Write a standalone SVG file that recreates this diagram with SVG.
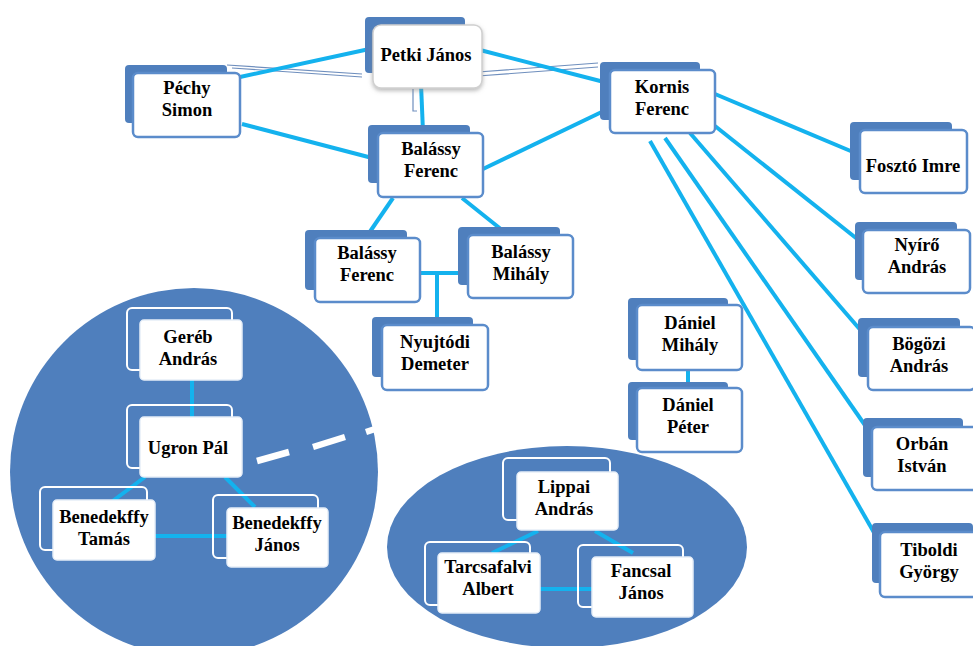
<svg xmlns="http://www.w3.org/2000/svg" width="973" height="646" viewBox="0 0 973 646">
<defs>
<style>
.back{fill:#4F7FBD;}
.front{fill:#FFFFFF;stroke:#5B8CCB;stroke-width:2.5;}
.cback{fill:none;stroke:#FFFFFF;stroke-width:2;}
.cfront{fill:#FFFFFF;stroke:#E6EEF8;stroke-width:1.5;}
.t{font-weight:bold;font-size:18.5px;fill:#000;text-anchor:middle;}
.c{stroke:#14B2EE;stroke-width:4;fill:none;}
.dk{stroke:#4A72AD;stroke-width:1.2;fill:none;opacity:0.8;}
.dash{stroke:#FFFFFF;stroke-width:6.5;fill:none;}
</style>
<filter id="sh" x="-20%" y="-20%" width="140%" height="150%">
<feDropShadow dx="0" dy="2" stdDeviation="2" flood-color="#888" flood-opacity="0.6"/>
</filter>
</defs>
<rect x="0" y="0" width="973" height="646" fill="#FFFFFF"/>

<g id="groups">
<circle cx="194" cy="472" r="184" fill="#4F7FBD"/>
<ellipse cx="567" cy="547" rx="180" ry="101" fill="#4F7FBD"/>
</g>

<g id="connectors">
<path class="dk" d="M227,65 L362,74 M232,68 L362,77"/>
<path class="dk" d="M478,72 L598,63 M478,76 L598,67"/>
<path class="dk" d="M413,89 L413,111 L417,111"/>
<line class="c" x1="240" y1="77" x2="374" y2="48"/>
<line class="c" x1="242" y1="124" x2="376" y2="159"/>
<line class="c" x1="421" y1="84" x2="423" y2="132"/>
<line class="c" x1="480" y1="50" x2="608" y2="83"/>
<line class="c" x1="483" y1="169" x2="610" y2="108"/>
<line class="c" x1="393" y1="198" x2="367" y2="236"/>
<line class="c" x1="462" y1="198" x2="507" y2="234"/>
<line class="c" x1="420" y1="273" x2="470" y2="273"/>
<line class="c" x1="437" y1="273" x2="437" y2="320"/>
<line class="c" x1="715" y1="94" x2="853" y2="152"/>
<line class="c" x1="715" y1="126" x2="861" y2="242"/>
<line class="c" x1="690" y1="133" x2="863" y2="333"/>
<line class="c" x1="665" y1="138" x2="869" y2="431"/>
<line class="c" x1="650" y1="141" x2="876" y2="536"/>
<line class="c" x1="688" y1="367" x2="688" y2="392"/>
<line class="c" x1="192" y1="380" x2="192" y2="418"/>
<line class="c" x1="145" y1="477" x2="110" y2="503"/>
<line class="c" x1="225" y1="477" x2="255" y2="507"/>
<line class="c" x1="155" y1="536" x2="228" y2="536"/>
<line class="c" x1="538" y1="531" x2="492" y2="553"/>
<line class="c" x1="595" y1="531" x2="633" y2="553"/>
<line class="c" x1="540" y1="589" x2="593" y2="589"/>
<line class="dash" x1="257" y1="461" x2="289" y2="452"/>
<line class="dash" x1="313" y1="447" x2="345" y2="437"/>
<line class="dash" x1="366" y1="432" x2="378" y2="428"/>
</g>

<g id="nodes" font-family="'Liberation Serif', 'DejaVu Serif', 'Times New Roman', serif">
<g id="n-petki">
<rect class="back" x="365" y="17" width="100" height="56" rx="4"/>
<rect x="373" y="25" width="109" height="63" rx="8" fill="#FFFFFF" stroke="#D0D0D0" stroke-width="1.5" filter="url(#sh)"/>
<text class="t" x="426" y="61">Petki János</text>
</g>

<g id="n-pechy">
<rect class="back" x="125" y="65" width="102" height="58" rx="4"/>
<rect class="front" x="133" y="73" width="107" height="64" rx="5"/>
<text class="t" x="187" y="94">Péchy<tspan x="187" dy="22">Simon</tspan></text>
</g>

<g id="n-balassy-ferenc-1">
<rect class="back" x="368" y="125" width="102" height="58" rx="4"/>
<rect class="front" x="378" y="133" width="105" height="64" rx="5"/>
<text class="t" x="431" y="155">Balássy<tspan x="431" dy="22">Ferenc</tspan></text>
</g>

<g id="n-kornis">
<rect class="back" x="600" y="62" width="100" height="58" rx="4"/>
<rect class="front" x="610" y="70" width="105" height="63" rx="5"/>
<text class="t" x="662" y="93">Kornis<tspan x="662" dy="22">Ferenc</tspan></text>
</g>

<g id="n-foszto">
<rect class="back" x="850" y="122" width="102" height="58" rx="4"/>
<rect class="front" x="860" y="130" width="107" height="63" rx="5"/>
<text class="t" x="913" y="172">Fosztó Imre</text>
</g>

<g id="n-nyiro">
<rect class="back" x="855" y="222" width="102" height="58" rx="4"/>
<rect class="front" x="863" y="230" width="107" height="63" rx="5"/>
<text class="t" x="917" y="251">Nyírő<tspan x="917" dy="22">András</tspan></text>
</g>

<g id="n-bogozi">
<rect class="back" x="858" y="318" width="102" height="59" rx="4"/>
<rect class="front" x="868" y="327" width="107" height="63" rx="5"/>
<text class="t" x="919" y="350">Bögözi<tspan x="919" dy="22">András</tspan></text>
</g>

<g id="n-orban">
<rect class="back" x="863" y="418" width="100" height="59" rx="4"/>
<rect class="front" x="872" y="427" width="107" height="63" rx="5"/>
<text class="t" x="922" y="450">Orbán<tspan x="922" dy="22">István</tspan></text>
</g>

<g id="n-tiboldi">
<rect class="back" x="872" y="523" width="101" height="60" rx="4"/>
<rect class="front" x="880" y="532" width="107" height="65" rx="5"/>
<text class="t" x="929" y="556">Tiboldi<tspan x="929" dy="22">György</tspan></text>
</g>

<g id="n-balassy-ferenc-2">
<rect class="back" x="305" y="230" width="102" height="60" rx="4"/>
<rect class="front" x="315" y="238" width="105" height="64" rx="5"/>
<text class="t" x="367" y="259">Balássy<tspan x="367" dy="22">Ferenc</tspan></text>
</g>

<g id="n-balassy-mihaly">
<rect class="back" x="458" y="227" width="102" height="58" rx="4"/>
<rect class="front" x="468" y="235" width="105" height="63" rx="5"/>
<text class="t" x="521" y="258">Balássy<tspan x="521" dy="22">Mihály</tspan></text>
</g>

<g id="n-nyujtodi">
<rect class="back" x="372" y="317" width="101" height="60" rx="4"/>
<rect class="front" x="382" y="325" width="106" height="65" rx="5"/>
<text class="t" x="435" y="348">Nyujtódi<tspan x="435" dy="22">Demeter</tspan></text>
</g>

<g id="n-daniel-mihaly">
<rect class="back" x="628" y="298" width="100" height="62" rx="4"/>
<rect class="front" x="637" y="305" width="105" height="65" rx="5"/>
<text class="t" x="690" y="329">Dániel<tspan x="690" dy="22">Mihály</tspan></text>
</g>

<g id="n-daniel-peter">
<rect class="back" x="628" y="382" width="100" height="58" rx="4"/>
<rect class="front" x="637" y="388" width="105" height="64" rx="5"/>
<text class="t" x="688" y="411">Dániel<tspan x="688" dy="22">Péter</tspan></text>
</g>

<g id="n-gereb">
<rect class="cback" x="127" y="308" width="105" height="62" rx="5"/>
<rect class="cfront" x="140" y="320" width="102" height="60" rx="4"/>
<text class="t" x="188" y="343">Geréb<tspan x="188" dy="22">András</tspan></text>
</g>

<g id="n-ugron">
<rect class="cback" x="127" y="405" width="105" height="63" rx="5"/>
<rect class="cfront" x="140" y="417" width="102" height="60" rx="4"/>
<text class="t" x="188" y="454">Ugron Pál</text>
</g>

<g id="n-benedekffy-tamas">
<rect class="cback" x="40" y="487" width="107" height="63" rx="5"/>
<rect class="cfront" x="53" y="500" width="102" height="60" rx="4"/>
<text class="t" x="104" y="523">Benedekffy<tspan x="104" dy="22">Tamás</tspan></text>
</g>

<g id="n-benedekffy-janos">
<rect class="cback" x="213" y="495" width="105" height="63" rx="5"/>
<rect class="cfront" x="227" y="508" width="101" height="59" rx="4"/>
<text class="t" x="277" y="529">Benedekffy<tspan x="277" dy="22">János</tspan></text>
</g>

<g id="n-lippai">
<rect class="cback" x="503" y="458" width="107" height="62" rx="5"/>
<rect class="cfront" x="517" y="472" width="101" height="58" rx="4"/>
<text class="t" x="564" y="493">Lippai<tspan x="564" dy="22">András</tspan></text>
</g>

<g id="n-tarcsafalvi">
<rect class="cback" x="425" y="542" width="105" height="63" rx="5"/>
<rect class="cfront" x="438" y="553" width="102" height="60" rx="4"/>
<text class="t" x="488" y="573">Tarcsafalvi<tspan x="488" dy="22">Albert</tspan></text>
</g>

<g id="n-fancsal">
<rect class="cback" x="578" y="545" width="105" height="62" rx="5"/>
<rect class="cfront" x="592" y="557" width="101" height="60" rx="4"/>
<text class="t" x="641" y="577">Fancsal<tspan x="641" dy="22">János</tspan></text>
</g>
</g>
</svg>
